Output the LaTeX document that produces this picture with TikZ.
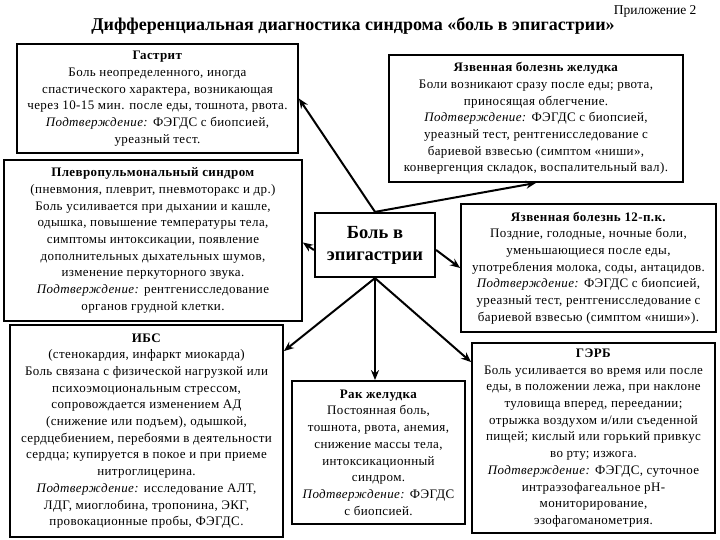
\documentclass[tikz,border=0pt]{standalone}
\usepackage{fontspec}
\setmainfont{Liberation Serif}
\usetikzlibrary{arrows.meta}
\begin{document}
\begin{tikzpicture}[x=1pt,y=-1pt,
  box/.style={draw=black, line width=1.8pt, rectangle, align=center, inner sep=2pt,
    font=\fontsize{13}{16.7}\selectfont\addfontfeature{LetterSpace=3}},
  arr/.style={line width=2pt, -{Stealth[length=10pt,width=8pt]}}]
\useasboundingbox (0,0) rectangle (720,540);
\fill[white] (0,0) rectangle (720,540);
\node[font=\fontsize{13.5}{15}\selectfont, anchor=east] (app) at (700,11) {Приложение 2};
\node[font=\fontsize{18}{20}\selectfont\bfseries] (title) at (353,26) {Дифференциальная диагностика синдрома «боль в эпигастрии»};

\node[box, minimum width=281pt, minimum height=109pt] (gastrit) at (157.5,98.5) {\textbf{Гастрит}\\
Боль неопределенного, иногда\\
спастического характера, возникающая\\
через 10-15 мин. после еды, тошнота, рвота.\\
\textit{Подтверждение:} ФЭГДС с биопсией,\\
уреазный тест.};

\node[box, minimum width=294pt, minimum height=127pt] (yzh) at (536,118.5) {\textbf{Язвенная болезнь желудка}\\
Боли возникают сразу после еды; рвота,\\
приносящая облегчение.\\
\textit{Подтверждение:} ФЭГДС с биопсией,\\
уреазный тест, рентгенисследование с\\
бариевой взвесью (симптом «ниши»,\\
конвергенция складок, воспалительный вал).};

\node[box, minimum width=298pt, minimum height=161pt] (pleuro) at (153,240.5) {\textbf{Плевропульмональный синдром}\\
(пневмония, плеврит, пневмоторакс и др.)\\
Боль усиливается при дыхании и кашле,\\
одышка, повышение температуры тела,\\
симптомы интоксикации, появление\\
дополнительных дыхательных шумов,\\
изменение перкуторного звука.\\
\textit{Подтверждение:} рентгенисследование\\
органов грудной клетки.};

\node[box, line width=2.2pt, minimum width=120pt, minimum height=64pt, font=\fontsize{18.5}{22}\selectfont\bfseries] (c) at (375,245) {Боль в\\эпигастрии};

\node[box, minimum width=255pt, minimum height=128pt] (duod) at (588.5,268) {\textbf{Язвенная болезнь 12-п.к.}\\
Поздние, голодные, ночные боли,\\
уменьшающиеся после еды,\\
употребления молока, соды, антацидов.\\
\textit{Подтверждение:} ФЭГДС с биопсией,\\
уреазный тест, рентгенисследование с\\
бариевой взвесью (симптом «ниши»).};

\node[box, minimum width=273pt, minimum height=212pt] (ibs) at (146.5,431) {\textbf{ИБС}\\
(стенокардия, инфаркт миокарда)\\
Боль связана с физической нагрузкой или\\
психоэмоциональным стрессом,\\
сопровождается изменением АД\\
(снижение или подъем), одышкой,\\
сердцебиением, перебоями в деятельности\\
сердца; купируется в покое и при приеме\\
нитроглицерина.\\
\textit{Подтверждение:} исследование АЛТ,\\
ЛДГ, миоглобина, тропонина, ЭКГ,\\
провокационные пробы, ФЭГДС.};

\node[box, minimum width=173pt, minimum height=143pt] (rak) at (378.5,452.5) {\textbf{Рак желудка}\\
Постоянная боль,\\
тошнота, рвота, анемия,\\
снижение массы тела,\\
интоксикационный\\
синдром.\\
\textit{Подтверждение:} ФЭГДС\\
с биопсией.};

\node[box, minimum width=243pt, minimum height=190pt] (gerb) at (593.5,438) {\textbf{ГЭРБ}\\
Боль усиливается во время или после\\
еды, в положении лежа, при наклоне\\
туловища вперед, переедании;\\
отрыжка воздухом и/или съеденной\\
пищей; кислый или горький привкус\\
во рту; изжога.\\
\textit{Подтверждение:} ФЭГДС, суточное\\
интраэзофагеальное pH-\\
мониторирование,\\
эзофагоманометрия.};

\draw[arr] (c.north) -- (gastrit.east);
\draw[arr] (c.north) -- (yzh.south);
\draw[arr] ([yshift=-5pt]c.west) -- ([yshift=-2pt]pleuro.east);
\draw[arr] ([yshift=-5pt]c.east) -- (duod.west);
\draw[arr] (c.south) -- ([yshift=-27pt]ibs.north east);
\draw[arr] (c.south) -- (c.south |- rak.north);
\draw[arr] (c.south) -- ([yshift=-20pt]gerb.north west);
\end{tikzpicture}
\end{document}
